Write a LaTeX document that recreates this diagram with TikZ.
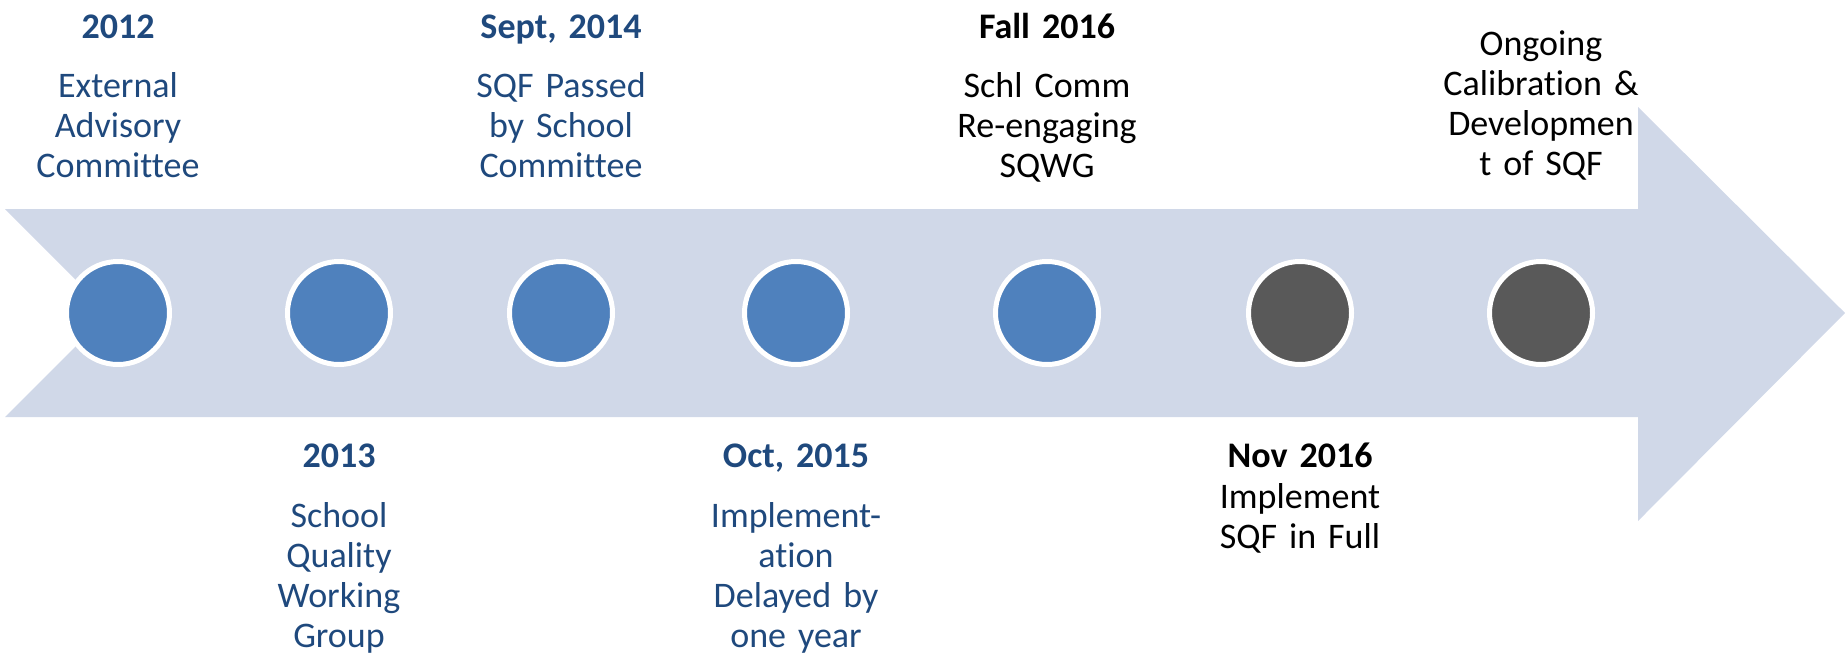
\documentclass[tikz,border=0pt]{standalone}
\usepackage{fontspec}
\setmainfont{Carlito}[Ligatures=CommonOff,WordSpace={0.8,0,0}]
\definecolor{bandfill}{HTML}{D0D8E8}
\definecolor{dotblue}{HTML}{4F81BD}
\definecolor{dotgray}{HTML}{595959}
\definecolor{textblue}{HTML}{1F497D}
\begin{document}
\begin{tikzpicture}[x=0.5pt,y=-0.5pt,
  dot/.style={circle,draw=white,line width=2.5pt,minimum size=51.5pt,inner sep=0pt},
  done/.style={dot,fill=dotblue},
  todo/.style={dot,fill=dotgray},
  lbl/.style={anchor=base,align=center,text width=110pt,inner sep=0pt,
    font=\fontsize{18pt}{20pt}\selectfont},
  ttl/.style={lbl,font=\fontsize{18pt}{20pt}\selectfont\bfseries}]
\useasboundingbox (0,0) rectangle (1845,664);

% notched block arrow
\fill[bandfill] (5,209) -- (1638,209) -- (1638,107) -- (1845,313)
  -- (1638,521) -- (1638,417) -- (5,417) -- (109,313) -- cycle;

% milestones
\node[done] (c1) at (118,313) {};
\node[done] (c2) at (339,313) {};
\node[done] (c3) at (561,313) {};
\node[done] (c4) at (796,313) {};
\node[done] (c5) at (1047,313) {};
\node[todo] (c6) at (1300,313) {};
\node[todo] (c7) at (1541,313) {};

% labels above the arrow
\node[ttl,text=textblue] (t1) at (118,39) {2012};
\node[lbl,text=textblue] (b1) at (118,97) {External\\Advisory\\Committee};
\node[ttl,text=textblue] (t3) at (561,39) {Sept, 2014};
\node[lbl,text=textblue] (b3) at (561,97) {SQF Passed\\by School\\Committee};
\node[ttl,text=black] (t5) at (1047,39) {Fall 2016};
\node[lbl,text=black] (b5) at (1047,97) {Schl Comm\\Re-engaging\\SQWG};
\node[lbl,text=black] (b7) at (1541,55) {Ongoing\\Calibration \&\\Developmen\\t of SQF};

% labels below the arrow
\node[ttl,text=textblue] (t2) at (339,467) {2013};
\node[lbl,text=textblue] (b2) at (339,527) {School\\Quality\\Working\\Group};
\node[ttl,text=textblue] (t4) at (796,467) {Oct, 2015};
\node[lbl,text=textblue] (b4) at (796,527) {Implement-\\ation\\Delayed by\\one year};
\node[ttl,text=black] (t6) at (1300,467) {Nov 2016};
\node[lbl,text=black] (b6) at (1300,508) {Implement\\SQF in Full};
\end{tikzpicture}
\end{document}
